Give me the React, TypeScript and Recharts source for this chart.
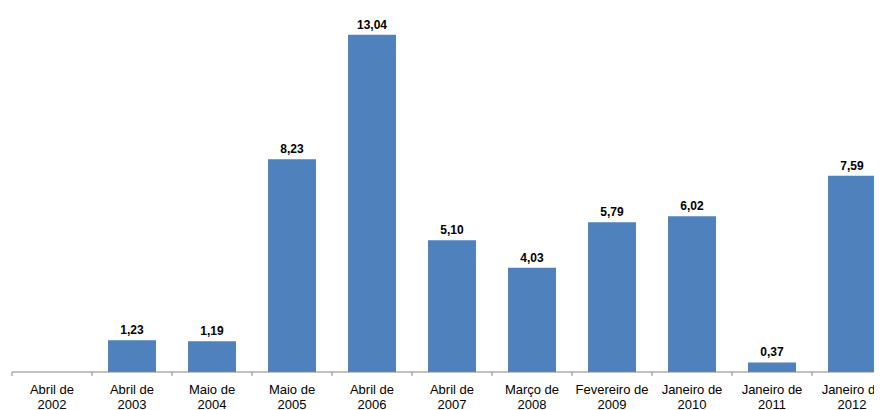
import React from 'react';
import { BarChart, Bar, XAxis, YAxis, LabelList } from 'recharts';

// Periods shown on the x axis (two lines each: "Mês de" / "Ano")
const categories = [
  'Abril de 2002',
  'Abril de 2003',
  'Maio de 2004',
  'Maio de 2005',
  'Abril de 2006',
  'Abril de 2007',
  'Março de 2008',
  'Fevereiro de 2009',
  'Janeiro de 2010',
  'Janeiro de 2011',
  'Janeiro de 2012',
];

// Values per period (first period has no bar)
const values: (number | null)[] = [null, 1.23, 1.19, 8.23, 13.04, 5.1, 4.03, 5.79, 6.02, 0.37, 7.59];

const data = categories.map((name, i) => ({ name, value: values[i] }));

const BAR_COLOR = '#4F81BD';
const AXIS_COLOR = '#868686';
const FONT = '"Liberation Sans", Arial, sans-serif';

const CategoryTick = (props: any) => {
  const { x, y, payload, index } = props;
  const label: string = payload.value;
  const cut = label.lastIndexOf(' ');
  const line1 = label.slice(0, cut);
  const line2 = label.slice(cut + 1);
  const half = 40; // half of a category band
  return (
    <g>
      <line x1={x - half} y1={y - 8} x2={x - half} y2={y - 4} stroke={AXIS_COLOR} />
      {index === categories.length - 1 && (
        <line x1={x + half} y1={y - 8} x2={x + half} y2={y - 4} stroke={AXIS_COLOR} />
      )}
      <text x={x} y={y + 14} textAnchor="middle" fontSize={13} fill="#000" fontFamily={FONT}>
        {line1}
      </text>
      <text x={x} y={y + 29} textAnchor="middle" fontSize={13} fill="#000" fontFamily={FONT}>
        {line2}
      </text>
    </g>
  );
};

const App: React.FC = () => {
  return (
    <div style={{ width: 874, height: 402, overflow: 'hidden' }}>
      <BarChart
        width={884}
        height={402}
        data={data}
        margin={{ top: 2, right: 0, left: 4, bottom: 0 }}
        barCategoryGap="20%"
      >
        <XAxis
          dataKey="name"
          height={38}
          interval={0}
          tickLine={false}
          axisLine={{ stroke: AXIS_COLOR }}
          tick={<CategoryTick />}
        />
        <YAxis hide domain={[0, 14]} />
        <Bar dataKey="value" fill={BAR_COLOR} isAnimationActive={false}>
          <LabelList
            dataKey="value"
            position="top"
            offset={6}
            formatter={(v: any) => (v == null ? '' : Number(v).toFixed(2).replace('.', ','))}
            style={{ fontSize: 12, fontWeight: 'bold', fill: '#000', fontFamily: FONT }}
          />
        </Bar>
      </BarChart>
    </div>
  );
};

export default App;
